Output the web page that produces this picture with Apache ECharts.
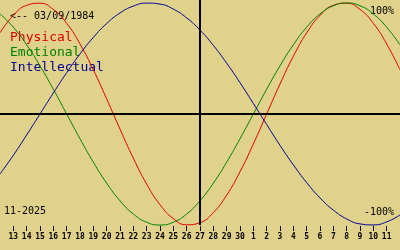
<!DOCTYPE html>
<html>
<head>
<meta charset="utf-8">
<script src="https://cdn.jsdelivr.net/npm/echarts@6/dist/echarts.min.js"></script>
<style>
html,body{margin:0;padding:0;background:#e0d28a;}
#c{width:400px;height:250px;}
</style>
</head>
<body>
<div id="c"></div>
<script>
// Day-of-month categories (first and last are off-axis edge days)
const days = ['12','13','14','15','16','17','18','19','20','21','22','23','24','25','26','27','28','29','30',
              '1','2','3','4','5','6','7','8','9','10','11','12'];
const physical = [0.731,0.888,0.979,0.998,0.942,0.817,0.631,0.398,0.136,-0.136,-0.398,-0.631,-0.817,-0.942,-0.998,
                  -0.979,-0.888,-0.731,-0.520,-0.270,0,0.270,0.520,0.731,0.888,0.979,0.998,0.942,0.817,0.631,0.398];
const emotional = [0.901,0.782,0.623,0.434,0.223,0,-0.223,-0.434,-0.623,-0.782,-0.901,-0.975,-1,-0.975,-0.901,
                   -0.782,-0.623,-0.434,-0.223,0,0.223,0.434,0.623,0.782,0.901,0.975,1,0.975,0.901,0.782,0.623];
const intellectual = [-0.541,-0.372,-0.189,0,0.189,0.372,0.541,0.690,0.815,0.910,0.972,0.999,0.990,0.945,0.866,
                      0.756,0.618,0.458,0.282,0.095,-0.095,-0.282,-0.458,-0.618,-0.756,-0.866,-0.945,-0.990,-0.999,-0.972,-0.910];
const seriesNames = ['Physical','Emotional','Intellectual'];
const seriesColors = ['#e00000','#008000','#000096'];
const birthLabel = '<-- 03/09/1984';
const monthLabel = '11-2025';
const topLabel = '100%';
const bottomLabel = '-100%';
const todayIndex = 15;
const yMax = 1.027;

const chart = echarts.init(document.getElementById('c'), null, {renderer:'canvas'});
const mono = '"DejaVu Sans Mono", monospace';
const shown = (i) => i > 0 && i < days.length - 1;

const series = [physical, emotional, intellectual].map((d, i) => ({
  name: seriesNames[i],
  type: 'line',
  data: d,
  smooth: true,
  showSymbol: false,
  symbol: 'none',
  lineStyle: {color: seriesColors[i], width: 1},
  itemStyle: {color: seriesColors[i]},
  z: 3,
  animation: false
}));
series[0].markLine = {
  silent: true,
  symbol: 'none',
  animation: false,
  label: {show: false},
  lineStyle: {color: '#000', width: 2, type: 'solid'},
  data: [
    {yAxis: 0},
    [{xAxis: todayIndex, yAxis: yMax}, {xAxis: todayIndex, yAxis: -1}]
  ]
};

chart.setOption({
  backgroundColor: '#e0d28a',
  animation: false,
  grid: {left: 0, right: 0, top: 0, height: 228},
  xAxis: {
    type: 'category',
    data: days,
    boundaryGap: false,
    offset: -2,
    axisLine: {show: false, onZero: false},
    splitLine: {show: false},
    axisTick: {show: true, length: 5, interval: (i) => shown(i), lineStyle: {color: '#000', width: 1}},
    axisLabel: {
      interval: (i) => shown(i),
      margin: 7,
      fontSize: 8,
      fontWeight: 'bold',
      fontFamily: mono,
      color: '#000'
    }
  },
  yAxis: {
    type: 'value',
    min: -yMax,
    max: yMax,
    show: false,
    splitLine: {show: false}
  },
  graphic: [
    {type: 'text', left: 10, top: 11, style: {text: birthLabel, font: '10px ' + mono, fill: '#000'}},
    {type: 'text', left: 10, top: 31, style: {text: seriesNames[0], font: '13px ' + mono, fill: seriesColors[0]}},
    {type: 'text', left: 10, top: 46, style: {text: seriesNames[1], font: '13px ' + mono, fill: seriesColors[1]}},
    {type: 'text', left: 10, top: 61, style: {text: seriesNames[2], font: '13px ' + mono, fill: seriesColors[2]}},
    {type: 'text', left: 4, top: 206, style: {text: monthLabel, font: '10px ' + mono, fill: '#000'}},
    {type: 'text', right: 6, top: 6, style: {text: topLabel, font: '10px ' + mono, fill: '#000'}},
    {type: 'text', right: 6, top: 207, style: {text: bottomLabel, font: '10px ' + mono, fill: '#000'}}
  ],
  series: series
});
</script>
</body>
</html>
